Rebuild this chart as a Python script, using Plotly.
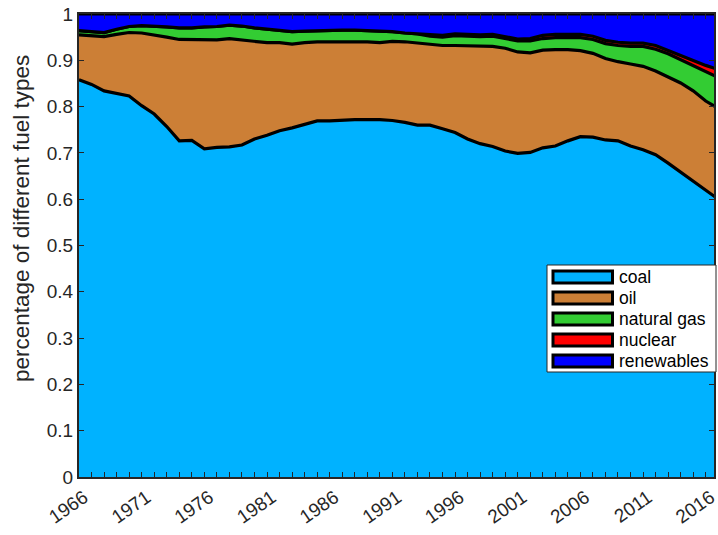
import plotly.graph_objects as go

years = list(range(1966, 2018))

coal = [0.858, 0.848, 0.834, 0.828, 0.823, 0.802, 0.784, 0.757, 0.726, 0.727,
        0.709, 0.712, 0.713, 0.717, 0.730, 0.738, 0.748, 0.754, 0.762, 0.769,
        0.769, 0.771, 0.772, 0.772, 0.772, 0.770, 0.766, 0.760, 0.760, 0.752,
        0.744, 0.730, 0.720, 0.714, 0.704, 0.699, 0.701, 0.711, 0.715, 0.726,
        0.735, 0.734, 0.728, 0.726, 0.715, 0.707, 0.696, 0.678, 0.659, 0.639,
        0.619, 0.600]
oil = [0.097, 0.105, 0.117, 0.128, 0.137, 0.157, 0.171, 0.193, 0.219, 0.218,
       0.236, 0.232, 0.234, 0.227, 0.210, 0.200, 0.190, 0.181, 0.176, 0.171,
       0.171, 0.169, 0.168, 0.168, 0.166, 0.171, 0.174, 0.177, 0.174, 0.180,
       0.188, 0.201, 0.210, 0.216, 0.222, 0.219, 0.215, 0.211, 0.208, 0.197,
       0.186, 0.181, 0.176, 0.171, 0.177, 0.180, 0.181, 0.186, 0.192, 0.195,
       0.193, 0.196]
natural_gas = [0.009, 0.009, 0.009, 0.011, 0.013, 0.016, 0.019, 0.022, 0.025, 0.025,
               0.027, 0.029, 0.029, 0.030, 0.030, 0.029, 0.026, 0.027, 0.025, 0.024,
               0.024, 0.025, 0.025, 0.024, 0.024, 0.021, 0.019, 0.020, 0.018, 0.018,
               0.021, 0.021, 0.021, 0.022, 0.021, 0.024, 0.026, 0.025, 0.026, 0.026,
               0.028, 0.030, 0.032, 0.035, 0.038, 0.043, 0.047, 0.050, 0.050, 0.054,
               0.062, 0.067]
nuclear = [0.0, 0.0, 0.0, 0.0, 0.0, 0.0, 0.0, 0.0, 0.0, 0.0,
           0.0, 0.0, 0.0, 0.0, 0.0, 0.0, 0.0, 0.0, 0.0, 0.0,
           0.0, 0.0, 0.0, 0.0, 0.0, 0.0, 0.0, 0.0, 0.004, 0.004,
           0.004, 0.004, 0.004, 0.004, 0.004, 0.004, 0.005, 0.007, 0.007, 0.007,
           0.007, 0.007, 0.007, 0.007, 0.007, 0.007, 0.008, 0.007, 0.009, 0.011,
           0.015, 0.017]
renewables = [0.036, 0.038, 0.040, 0.033, 0.027, 0.025, 0.026, 0.028, 0.030, 0.030,
              0.028, 0.027, 0.024, 0.026, 0.030, 0.033, 0.036, 0.038, 0.037, 0.036,
              0.036, 0.035, 0.035, 0.036, 0.038, 0.038, 0.041, 0.043, 0.044, 0.046,
              0.043, 0.044, 0.045, 0.044, 0.049, 0.054, 0.053, 0.046, 0.044, 0.044,
              0.044, 0.048, 0.057, 0.061, 0.063, 0.063, 0.068, 0.079, 0.090, 0.101,
              0.111, 0.120]

series_names = ["coal", "oil", "natural gas", "nuclear", "renewables"]
series_values = [coal, oil, natural_gas, nuclear, renewables]
series_colors = ["#00B2FF", "#CC7F36", "#33CC33", "#FF0000", "#0000FF"]

x_tick_vals = list(range(1966, 2017))
x_tick_labels = [str(y) if (y - 1966) % 5 == 0 else "" for y in x_tick_vals]
y_tick_vals = [i / 10 for i in range(11)]
y_tick_labels = ["0", "0.1", "0.2", "0.3", "0.4", "0.5", "0.6", "0.7", "0.8", "0.9", "1"]
y_title = "percentage of different fuel types"

W, H = 718, 535
ML, MR, MT, MB = 79, 4, 14, 58
PW, PH = W - ML - MR, H - MT - MB


def px(xp):
    return (xp - ML) / PW


def py(yp):
    return (H - MB - yp) / PH


fig = go.Figure()
for name, vals, col in zip(series_names, series_values, series_colors):
    fig.add_trace(go.Scatter(
        x=years, y=vals, name=name, mode="lines", stackgroup="one",
        fillcolor=col, line=dict(color="black", width=3.2),
        showlegend=False,
    ))

axis_col = "#262626"
FONT = "Liberation Sans, Arial, sans-serif"

# manual MATLAB-style legend
shapes = [dict(type="rect", xref="paper", yref="paper",
               x0=px(547), x1=px(716), y0=py(372), y1=py(265),
               fillcolor="white", line=dict(color=axis_col, width=1), layer="above")]
annotations = []
for i, (name, col) in enumerate(zip(series_names, series_colors)):
    c = 277 + 21 * i
    shapes.append(dict(type="rect", xref="paper", yref="paper",
                       x0=px(553), x1=px(612.5), y0=py(c + 6), y1=py(c - 6),
                       fillcolor=col, line=dict(color="black", width=3), layer="above"))
    annotations.append(dict(xref="paper", yref="paper", x=px(617), y=py(c),
                            xanchor="left", yanchor="middle", text=name, showarrow=False,
                            font=dict(family=FONT, size=17.5, color="black")))

annotations.append(dict(xref="paper", yref="paper", x=px(21), y=py(219),
                        xanchor="center", yanchor="middle", text=y_title, textangle=-90,
                        showarrow=False, font=dict(family=FONT, size=22.5, color=axis_col)))

fig.update_layout(
    width=W, height=H,
    margin=dict(l=ML, r=MR, t=MT, b=MB),
    paper_bgcolor="white", plot_bgcolor="white",
    font=dict(family=FONT, size=19, color=axis_col),
    showlegend=False,
    shapes=shapes,
    annotations=annotations,
    xaxis=dict(
        range=[1966, 2016.66], tickvals=x_tick_vals, ticktext=x_tick_labels,
        tickangle=-35, ticks="inside", ticklen=5, tickcolor=axis_col,
        showline=True, linecolor=axis_col, linewidth=2, mirror="ticks",
        showgrid=False, zeroline=False, automargin=False,
        ticklabeloverflow="allow", ticklabelshift=5,
        tickfont=dict(family=FONT, size=19, color=axis_col),
    ),
    yaxis=dict(
        range=[0, 1], tickvals=y_tick_vals, ticktext=y_tick_labels,
        ticks="inside", ticklen=5, tickcolor=axis_col,
        showline=True, linecolor=axis_col, linewidth=2, mirror="ticks",
        showgrid=False, zeroline=False, automargin=False,
        ticklabeloverflow="allow",
        tickfont=dict(family=FONT, size=19, color=axis_col),
    ),
)

fig.write_html(
    "out.html",
    config={"displayModeBar": False},
    post_script="document.body.style.margin='0';document.body.style.overflow='hidden';",
)
